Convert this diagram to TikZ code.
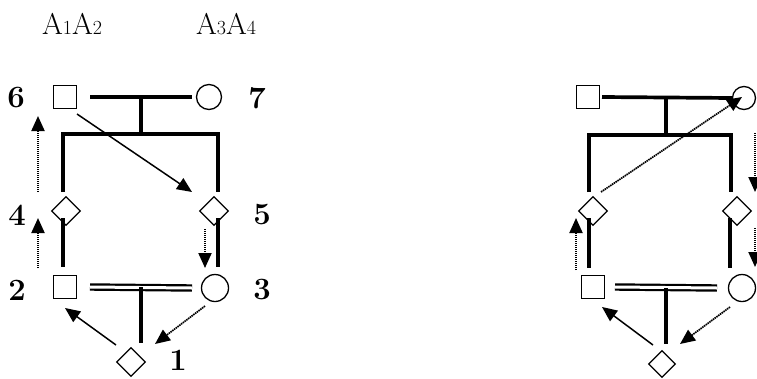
\documentclass[tikz,border=0pt]{standalone}
\usepackage{fontspec}
\usetikzlibrary{shapes.geometric,arrows.meta,calc}
\begin{document}
\begin{tikzpicture}[x=1pt,y=-1pt,
  sq/.style={draw,line width=1.3pt,minimum size=23pt,inner sep=0pt},
  ci/.style={draw,circle,line width=1.3pt,minimum size=25pt,inner sep=0pt},
  di/.style={draw,diamond,line width=1.3pt,minimum width=29pt,minimum height=29pt,inner sep=0pt},
  kin/.style={line width=3.7pt},
  mar/.style={double,double distance=3pt,line width=2.2pt},
  arr/.style={-{Triangle[length=15pt,width=13pt]},line width=1.5pt},
  darr/.style={arr,line width=2pt,dash pattern=on 1pt off 1pt},
  sarr/.style={arr,line width=1.7pt,dash pattern=on 1.5pt off 0.7pt},
  lab/.style={font=\fontsize{31}{31}\selectfont\bfseries,inner sep=0pt},
  ttl/.style={font=\fontsize{30}{30}\selectfont,inner sep=0pt,anchor=base}]
\useasboundingbox (0,0) rectangle (757,378);
\newcommand{\dg}[1]{{\fontsize{20}{20}\selectfont #1}}
% titles
\node[ttl] (t1) at (72,34) {A\dg{1}A\dg{2}};
\node[ttl] (t2) at (226,34) {A\dg{3}A\dg{4}};
% ---------- left pedigree ----------
\node[sq] (s6) at (65,97) {};
\node[ci] (c7) at (209,97) {};
\node[di] (d4) at (66,211) {};
\node[di] (d5) at (214,211) {};
\node[sq] (s2) at (65,287) {};
\node[ci,minimum size=27pt] (c3) at (215,288) {};
\node[di] (d1) at (131,362) {};
\node[lab] (l6) at (16,98) {6};
\node[lab] (l7) at (257,98) {7};
\node[lab] (l4) at (17,215) {4};
\node[lab] (l5) at (262,215) {5};
\node[lab] (l2) at (17,290) {2};
\node[lab] (l3) at (262,290) {3};
\node[lab,anchor=base] (l1) at (178,370) {1};
\coordinate (m1) at (141,97);
\coordinate (b1) at (141,134);
\draw[kin] ($(s6)+(25,0)$) -- ($(c7)+(-17,0)$);
\draw[kin] (m1) -- (b1);
\draw[kin,line join=miter] ($(d4)+(-3,-19)$) |- (b1) -| ($(d5)+(4,-19)$);
\draw[kin] ($(d4)+(-3,7)$) -- ($(s2)+(-2,-20)$);
\draw[kin] ($(d5)+(4,7)$) -- ($(c3)+(3,-21)$);
\draw[mar] ($(s2)+(25,0)$) -- ($(c3)+(-23,0)$);
\coordinate (m2) at (141,287);
\draw[kin] (m2) -- ($(d1)+(10,-19)$);
\draw[darr] ($(d4)+(-28,-19)$) -- ($(s6)+(-27,19)$);
\draw[darr] ($(s2)+(-27,-19)$) -- ($(d4)+(-28,7)$);
\draw[arr] ($(s6)+(12,17)$) -- ($(d5)+(-22,-19)$);
\draw[darr] ($(d5)+(-9,18)$) -- ($(c3)+(-10,-20)$);
\draw[sarr] ($(c3)+(-10,18)$) -- ($(d1)+(24,-18)$);
\draw[arr] ($(d1)+(-15,-17)$) -- ($(s2)+(0,21)$);
% ---------- right pedigree ----------
\node[sq] (rs6) at (588,97) {};
\node[ci,minimum size=23pt] (rc7) at (744,98) {};
\node[di] (rd4) at (593,211) {};
\node[di] (rd5) at (737,211) {};
\node[sq] (rs2) at (593,287) {};
\node[ci,minimum size=27pt] (rc3) at (742,288) {};
\node[di,minimum width=27pt,minimum height=27pt] (rd1) at (662,364) {};
\coordinate (rm1) at (666,97);
\coordinate (rb1) at (666,135);
\draw[kin] ($(rs6)+(14,0)$) -- ($(rc7)+(-12,0)$);
\draw[kin] (rm1) -- (rb1);
\draw[kin,line join=miter] ($(rd4)+(-4,-19)$) |- (rb1) -| ($(rd5)+(-6,-19)$);
\draw[kin] ($(rd4)+(-4,7)$) -- ($(rs2)+(-4,-19)$);
\draw[kin] ($(rd5)+(-7,7)$) -- ($(rc3)+(-12,-20)$);
\draw[mar] ($(rs2)+(22,0)$) -- ($(rc3)+(-25,0)$);
\coordinate (rm2) at (666,288);
\draw[kin] (rm2) -- ($(rd1)+(4,-20)$);
\draw[sarr] ($(rd4)+(8,-19)$) -- ($(rc7)+(-2,-1)$);
\coordinate (re1) at (755,133);
\draw[darr] (re1) -- ($(rd5)+(18,-19)$);
\draw[darr] ($(rd5)+(18,17)$) -- ($(rc3)+(13,-21)$);
\draw[darr] ($(rs2)+(-17,-17)$) -- ($(rd4)+(-17,7)$);
\draw[sarr] ($(rc3)+(-12,19)$) -- ($(rd1)+(18,-20)$);
\draw[arr] ($(rd1)+(-9,-19)$) -- ($(rs2)+(9,20)$);
\end{tikzpicture}
\end{document}
